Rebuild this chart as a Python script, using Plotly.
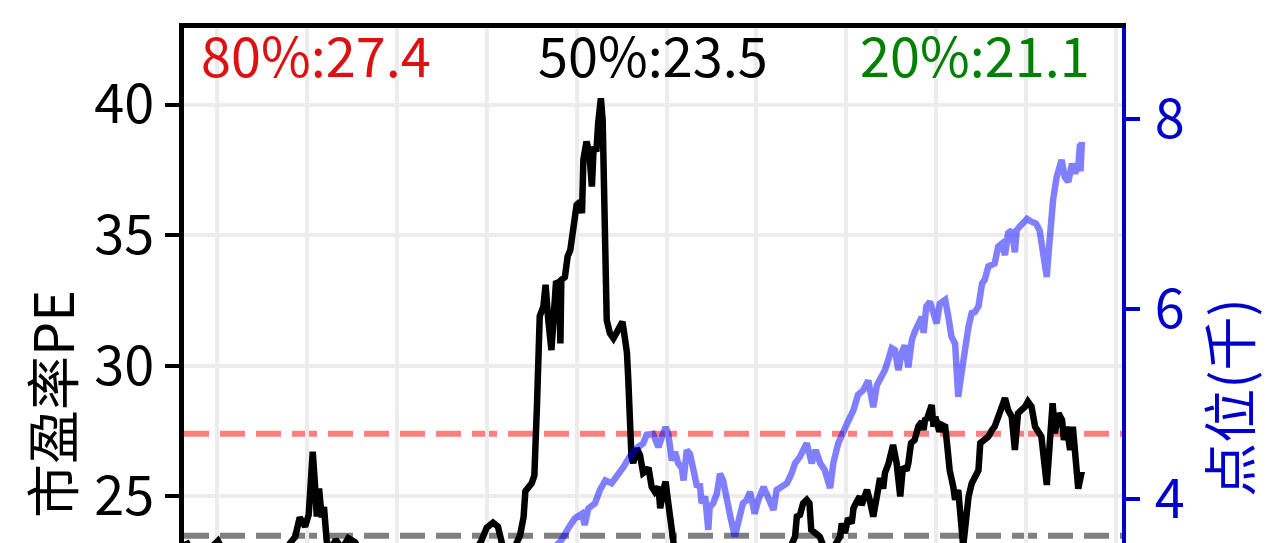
import plotly.graph_objects as go

# ---- data (decimal years) ----
pe_x = [2011.655, 2011.72, 2011.81, 2011.92, 2012.01, 2012.10, 2012.26, 2012.42, 2012.59, 2012.76,
        2012.81, 2012.87, 2012.92, 2012.98, 2013.02, 2013.065, 2013.09, 2013.11, 2013.135, 2013.165,
        2013.19, 2013.22, 2013.26, 2013.32, 2013.39, 2013.46, 2013.535, 2013.61, 2013.81, 2014.04,
        2014.26, 2014.48, 2014.70, 2014.87, 2014.94, 2015.00, 2015.07, 2015.125, 2015.17, 2015.23,
        2015.29, 2015.35, 2015.37, 2015.41, 2015.43, 2015.50, 2015.53, 2015.56, 2015.575, 2015.59,
        2015.63, 2015.655, 2015.685, 2015.72, 2015.77, 2015.80, 2015.82, 2015.83, 2015.87, 2015.90,
        2015.93, 2015.98, 2016.00, 2016.04, 2016.06, 2016.075, 2016.11, 2016.14, 2016.17, 2016.19,
        2016.22, 2016.24, 2016.27, 2016.29, 2016.32, 2016.335, 2016.37, 2016.41, 2016.45, 2016.51,
        2016.54, 2016.56, 2016.575, 2016.59, 2016.61, 2016.63, 2016.67, 2016.705, 2016.74, 2016.78,
        2016.80, 2016.835, 2016.87, 2016.91, 2016.93, 2016.965, 2016.99, 2017.02, 2017.06, 2017.095,
        2017.21, 2017.37, 2017.595, 2017.82, 2018.04, 2018.26, 2018.37, 2018.43, 2018.45, 2018.485,
        2018.52, 2018.56, 2018.59, 2018.61, 2018.65, 2018.705, 2018.77, 2018.85, 2018.93, 2018.95,
        2018.985, 2019.02, 2019.06, 2019.08, 2019.115, 2019.15, 2019.17, 2019.23, 2019.26, 2019.30,
        2019.34, 2019.375, 2019.41, 2019.43, 2019.47, 2019.52, 2019.56, 2019.60, 2019.63, 2019.67,
        2019.69, 2019.72, 2019.76, 2019.80, 2019.84, 2019.86, 2019.875, 2019.90, 2019.95, 2019.97,
        2019.99, 2020.005, 2020.035, 2020.06, 2020.10, 2020.12, 2020.15, 2020.19, 2020.21, 2020.245,
        2020.28, 2020.30, 2020.32, 2020.36, 2020.395, 2020.43, 2020.47, 2020.49, 2020.54, 2020.58,
        2020.62, 2020.65, 2020.69, 2020.73, 2020.765, 2020.80, 2020.84, 2020.875, 2020.91, 2020.95,
        2020.99, 2021.02, 2021.06, 2021.10, 2021.135, 2021.17, 2021.23, 2021.265, 2021.295, 2021.32,
        2021.36, 2021.40, 2021.42, 2021.45, 2021.49, 2021.52, 2021.545, 2021.58, 2021.62]
pe_values = [23.3, 22.8, 22.6, 23.0, 23.3, 22.7, 22.2, 21.8, 22.4, 22.9,
             23.2, 23.46, 24.2, 23.85, 24.3, 26.71, 25.44, 24.23, 25.3, 24.2,
             24.6, 23.3, 22.9, 23.35, 23.0, 23.4, 23.25, 22.8, 22.3, 21.9,
             22.1, 22.0, 22.4, 22.9, 23.3, 23.8, 24.0, 23.85, 23.2, 22.7,
             22.9, 23.3, 23.5, 24.2, 25.2, 25.5, 25.8, 28.58, 30.2, 31.9,
             32.26, 33.1, 31.75, 30.6, 33.16, 33.2, 30.86, 33.29, 33.4, 34.18,
             34.43, 35.45, 36.16, 36.28, 35.84, 37.88, 38.58, 38.2, 36.86, 38.39,
             38.2, 39.28, 40.24, 39.4, 35.2, 31.75, 31.25, 31.05, 31.3, 31.69,
             30.99, 30.5, 29.46, 27.29, 26.52, 26.28, 26.84, 26.59, 25.9, 26.0,
             26.1, 25.37, 25.18, 25.37, 24.55, 25.25, 25.57, 24.74, 23.46, 22.8,
             22.3, 21.9, 21.6, 22.0, 22.3, 22.6, 23.0, 23.46, 24.23, 24.3,
             24.74, 24.87, 24.74, 23.72, 23.6, 23.46, 22.9, 23.0, 23.46, 23.97,
             23.6, 24.17, 23.97, 24.55, 24.8, 25.0, 24.67, 25.25, 24.87, 24.23,
             25.0, 25.7, 25.3, 25.9, 26.27, 26.97, 26.27, 25.0, 26.14, 26.0,
             26.27, 27.04, 27.16, 27.67, 27.86, 27.54, 27.93, 27.99, 28.5, 27.67,
             28.05, 27.86, 27.48, 27.74, 27.67, 27.04, 26.0, 25.37, 24.87, 25.25,
             23.3, 23.1, 23.72, 25.0, 25.5, 25.76, 26.0, 27.04, 27.16, 27.29,
             27.54, 27.67, 28.05, 28.44, 28.76, 28.31, 28.05, 26.78, 28.18, 28.31,
             28.44, 28.63, 28.44, 27.67, 27.42, 27.29, 25.44, 27.29, 28.57, 27.42,
             28.18, 27.93, 27.16, 27.67, 26.78, 27.67, 26.27, 25.3, 25.96]

idx_x = [2011.655, 2012.145, 2012.70, 2013.145, 2013.59, 2014.04, 2014.48, 2014.925, 2015.37, 2015.70,
         2015.76, 2015.83, 2015.91, 2015.98, 2016.06, 2016.09, 2016.13, 2016.205, 2016.26, 2016.32,
         2016.39, 2016.45, 2016.52, 2016.59, 2016.67, 2016.74, 2016.78, 2016.85, 2016.91, 2016.95,
         2016.99, 2017.02, 2017.06, 2017.095, 2017.13, 2017.17, 2017.19, 2017.225, 2017.26, 2017.30,
         2017.34, 2017.37, 2017.39, 2017.43, 2017.465, 2017.48, 2017.52, 2017.56, 2017.595, 2017.63,
         2017.67, 2017.71, 2017.76, 2017.80, 2017.82, 2017.85, 2017.89, 2017.93, 2017.98, 2018.02,
         2018.08, 2018.13, 2018.19, 2018.225, 2018.28, 2018.34, 2018.39, 2018.43, 2018.485, 2018.56,
         2018.615, 2018.66, 2018.71, 2018.76, 2018.82, 2018.855, 2018.91, 2018.97, 2019.02, 2019.08,
         2019.13, 2019.19, 2019.245, 2019.30, 2019.34, 2019.39, 2019.43, 2019.47, 2019.505, 2019.54,
         2019.58, 2019.615, 2019.65, 2019.69, 2019.73, 2019.76, 2019.80, 2019.84, 2019.86, 2019.89,
         2019.93, 2019.97, 2020.005, 2020.04, 2020.10, 2020.135, 2020.17, 2020.21, 2020.245, 2020.28,
         2020.32, 2020.36, 2020.395, 2020.43, 2020.47, 2020.51, 2020.54, 2020.58, 2020.65, 2020.69,
         2020.73, 2020.765, 2020.80, 2020.84, 2020.875, 2020.895, 2020.93, 2020.97, 2021.01, 2021.06,
         2021.11, 2021.15, 2021.19, 2021.23, 2021.25, 2021.29, 2021.30, 2021.34, 2021.38, 2021.395,
         2021.43, 2021.47, 2021.51, 2021.545, 2021.58, 2021.60, 2021.605, 2021.62]
idx_values = [2.6, 2.7, 2.5, 2.9, 2.8, 2.7, 2.9, 3.1, 3.3, 3.45,
              3.5, 3.57, 3.70, 3.80, 3.85, 3.73, 3.905, 3.96, 4.10, 4.20,
              4.17, 4.24, 4.34, 4.45, 4.54, 4.59, 4.68, 4.69, 4.55, 4.66,
              4.76, 4.69, 4.41, 4.50, 4.38, 4.33, 4.20, 4.52, 4.48, 4.31,
              4.13, 4.17, 3.96, 4.03, 3.68, 3.92, 3.96, 4.06, 4.27, 4.20,
              3.96, 3.82, 3.61, 3.75, 3.85, 3.96, 3.99, 4.08, 3.85, 3.99,
              4.13, 4.03, 3.89, 4.10, 4.13, 4.17, 4.27, 4.38, 4.45, 4.59,
              4.38, 4.52, 4.38, 4.31, 4.12, 4.38, 4.59, 4.73, 4.82, 4.94,
              5.10, 5.15, 5.25, 4.97, 5.20, 5.29, 5.36, 5.48, 5.59, 5.57,
              5.36, 5.54, 5.62, 5.39, 5.68, 5.76, 5.83, 5.92, 5.75, 6.03,
              6.08, 5.96, 5.85, 6.06, 6.10, 5.92, 5.71, 5.64, 5.08, 5.32,
              5.60, 5.82, 5.96, 5.97, 6.03, 6.27, 6.31, 6.45, 6.48, 6.66,
              6.69, 6.57, 6.80, 6.83, 6.60, 6.83, 6.87, 6.90, 6.95, 6.92,
              6.90, 6.83, 6.62, 6.34, 6.59, 7.08, 7.15, 7.39, 7.50, 7.57,
              7.39, 7.34, 7.53, 7.43, 7.50, 7.74, 7.45, 7.76]

pct_labels = ["80%", "50%", "20%"]
pct_values = [27.4, 23.5, 21.1]
pct_colors = ["#dd1111", "#000000", "#008000"]
line_colors = ["rgba(255,0,0,0.5)", "rgba(0,0,0,0.5)", "rgba(0,128,0,0.5)"]

FONT = "Noto Sans CJK SC"
BLUE = "#0000cc"
FS = 54

fig = go.Figure()
fig.add_trace(go.Scatter(x=pe_x, y=pe_values, mode="lines",
                         line=dict(color="black", width=6.5), yaxis="y", showlegend=False))
fig.add_trace(go.Scatter(x=idx_x, y=idx_values, mode="lines",
                         line=dict(color="rgba(0,0,255,0.5)", width=6.5), yaxis="y2", showlegend=False))

for v, c in zip(pct_values, line_colors):
    fig.add_shape(type="line", xref="paper", yref="y", x0=0, x1=1, y0=v, y1=v,
                  line=dict(color=c, width=6, dash="25px,11px"), layer="between")

ann_x = [0.0165, 0.5, 0.968]
ann_anchor = ["left", "center", "right"]
for lab, v, c, ax, an in zip(pct_labels, pct_values, pct_colors, ann_x, ann_anchor):
    fig.add_annotation(x=ax, y=0.951, xref="paper", yref="paper", xanchor=an, yanchor="middle",
                       text=f"{lab}:{v}", showarrow=False, font=dict(family=FONT, size=FS, color=c))

fig.add_annotation(x=-0.1418, y=0.27, xref="paper", yref="paper", text="市盈率PE", textangle=-90,
                   showarrow=False, xanchor="center", yanchor="middle",
                   font=dict(family=FONT, size=FS, color="black"))
fig.add_annotation(x=1.113, y=0.284, xref="paper", yref="paper", text="点位(千)", textangle=-90,
                   showarrow=False, xanchor="center", yanchor="middle",
                   font=dict(family=FONT, size=FS, color=BLUE))

GRID = "#ececec"
fig.update_layout(
    width=1280, height=543,
    margin=dict(l=184, r=158, t=28, b=0),
    plot_bgcolor="white", paper_bgcolor="white",
    font=dict(family=FONT, size=FS),
    xaxis=dict(range=[2011.6329, 2022.0667], tick0=2012, dtick=1, side="top",
               showgrid=True, gridcolor=GRID, gridwidth=4, zeroline=False,
               showline=True, linecolor="black", linewidth=5, ticks="", showticklabels=False),
    yaxis=dict(range=[23.219, 42.928], tickvals=[25, 30, 35, 40], showgrid=True,
               gridcolor=GRID, gridwidth=4, zeroline=False, showline=True, linecolor="black",
               linewidth=5, ticks="outside", ticklen=14, tickwidth=4, tickcolor="black",
               tickfont=dict(family=FONT, size=FS, color="black")),
    yaxis2=dict(range=[3.542, 8.957], tickvals=[4, 6, 8], overlaying="y", side="right",
                showgrid=False, zeroline=False, showline=True, linecolor=BLUE, linewidth=4,
                ticks="outside", ticklen=14, tickwidth=4, tickcolor=BLUE, ticklabelstandoff=4,
                tickfont=dict(family=FONT, size=FS, color=BLUE)),
)

fig.write_html("out.html", config={"displayModeBar": False},
               post_script="document.body.style.margin='0px';document.body.style.overflow='hidden';")
